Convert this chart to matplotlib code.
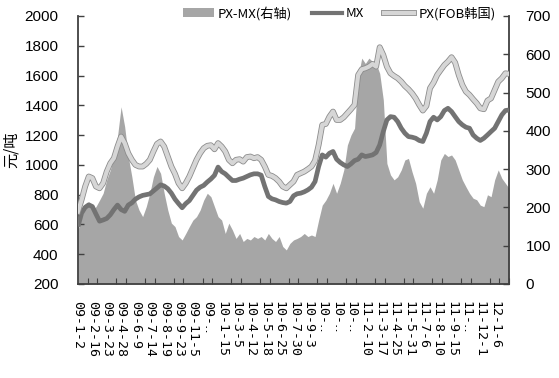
import matplotlib
matplotlib.use("Agg")
import matplotlib.pyplot as plt
import matplotlib.patheffects as pe
from matplotlib.patches import Patch
from matplotlib.lines import Line2D
import numpy as np

plt.rcParams['font.family'] = ['Noto Sans CJK SC', 'DejaVu Sans']

tick_labels = ["09-1-2", "09-2-16", "09-3-23", "09-4-28", "09-6-9", "09-7-14", "09-8-19",
               "09-9-23", "09-11-5", "09-‥", "10-1-15", "10-3-5", "10-4-12", "10-5-18",
               "10-6-25", "10-7-30", "10-9-3", "10-‥", "10-‥", "10-‥", "11-2-10", "11-3-17",
               "11-4-25", "11-5-31", "11-7-6", "11-8-10", "11-9-15", "11-‥", "11-12-1", "12-1-6"]

px = [687, 765, 855, 922, 911, 855, 843, 877, 955, 1011, 1045, 1123, 1190, 1146, 1078, 1034, 1000, 989, 989, 1007,
      1034, 1090, 1141, 1157, 1123, 1056, 989, 940, 877, 843, 877, 922, 978, 1034, 1078, 1112, 1128, 1132, 1105, 1146, 1123,
      1090, 1034, 1011, 1034, 1038, 1022, 1052, 1056, 1045, 1052, 1034, 989, 933, 926, 911, 888, 855, 843, 866, 888,
      933, 944, 955, 971, 989, 1029, 1134, 1269, 1275, 1324, 1358, 1302, 1302, 1320, 1347, 1374, 1403, 1604, 1642, 1649,
      1660, 1678, 1660, 1790, 1738, 1660, 1615, 1597, 1582, 1559, 1530, 1508, 1481, 1447, 1403, 1365, 1396, 1515, 1553, 1604,
      1638, 1671, 1694, 1723, 1687, 1604, 1537, 1492, 1470, 1441, 1414, 1380, 1374, 1432, 1447, 1503, 1559, 1582, 1615, 1611]

mx = [586, 676, 715, 732, 720, 670, 622, 630, 640, 665, 700, 730, 700, 688, 730, 745, 770, 785, 795, 800,
      805, 825, 845, 866, 858, 840, 810, 770, 740, 712, 740, 760, 795, 830, 850, 862, 885, 905, 930, 985, 955,
      940, 917, 895, 895, 904, 911, 922, 933, 940, 940, 931, 855, 788, 772, 765, 754, 747, 743, 754, 792,
      806, 810, 819, 832, 850, 888, 989, 1067, 1052, 1078, 1090, 1038, 1016, 1000, 989, 1007, 1029, 1038, 1067, 1056,
      1061, 1067, 1083, 1134, 1224, 1302, 1324, 1320, 1291, 1246, 1213, 1190, 1186, 1179, 1164, 1157, 1213, 1291, 1320, 1302,
      1324, 1365, 1380, 1358, 1324, 1291, 1269, 1253, 1246, 1201, 1179, 1164, 1179, 1201, 1224, 1246, 1291, 1336, 1365, 1369]

spread = [141, 176, 202, 215, 193, 202, 219, 237, 272, 298, 333, 385, 463, 411, 333, 280, 219, 193, 176, 202,
          237, 280, 307, 289, 237, 193, 159, 150, 124, 115, 132, 150, 167, 176, 193, 219, 237, 228, 202, 176, 167,
          132, 159, 141, 119, 132, 111, 119, 115, 124, 119, 124, 115, 132, 119, 111, 124, 98, 89, 106, 115,
          119, 124, 132, 124, 128, 124, 167, 206, 219, 237, 263, 237, 263, 298, 363, 389, 407, 542, 590, 576,
          590, 581, 576, 550, 481, 315, 285, 272, 280, 298, 324, 328, 293, 263, 215, 198, 237, 254, 237, 272,
          324, 341, 333, 337, 324, 298, 272, 254, 237, 224, 220, 206, 202, 233, 228, 272, 298, 276, 263, 250]

x = np.arange(len(px))
n = len(px) - 1

fig = plt.figure(figsize=(5.59, 3.78), dpi=100)
ax = fig.add_axes([0.1395, 0.2487, 0.7711, 0.709])
ax2 = ax.twinx()
ax.set_zorder(ax2.get_zorder() + 1)
ax.patch.set_visible(False)

area_col = '#a6a6a6'
ax2.fill_between(x, 0, spread, color=area_col, linewidth=0)
ax2.set_ylim(0, 700)
ax2.set_yticks(range(0, 701, 100))

ax.plot(x, mx, color='#737373', linewidth=3.4, solid_capstyle='butt', zorder=3)
ax.plot(x, px, color='#d6d6d6', linewidth=3.0, zorder=4,
        path_effects=[pe.Stroke(linewidth=4.2, foreground='#8c8c8c'), pe.Normal()])

ax.set_ylim(200, 2000)
ax.set_yticks(range(200, 2001, 200))
ax.set_xlim(0, n)

label_pos = np.arange(len(tick_labels)) * 4
ax.set_xticks(label_pos)
ax.set_xticklabels(tick_labels, rotation=-90, fontsize=9.5,
                   family=['DejaVu Sans Mono', 'DejaVu Sans'], va='top', ha='center')
ax.set_xticks(np.arange(0, n + 0.01, 8 / 3), minor=True)
ax.tick_params(axis='x', which='major', length=0, pad=12)
ax.tick_params(axis='x', which='minor', direction='in', length=4, width=0.8, color='#404040')

for a in (ax, ax2):
    a.tick_params(axis='y', direction='in', length=4, width=1.0, color='#404040')
    for s in a.spines.values():
        s.set_visible(False)
ax.spines['left'].set_visible(True)
ax.spines['bottom'].set_visible(True)
ax2.spines['right'].set_visible(True)
for s in (ax.spines['left'], ax.spines['bottom'], ax2.spines['right']):
    s.set_color('#404040')
    s.set_linewidth(1.3)

for lab in ax.get_yticklabels() + ax2.get_yticklabels():
    lab.set_family(['Liberation Sans', 'DejaVu Sans'])
    lab.set_fontsize(11)
ax.tick_params(axis='y', pad=14)
ax2.tick_params(axis='y', pad=12)

ax.set_ylabel('元/吨', fontsize=11, labelpad=2)
ax.yaxis.set_label_coords(-0.135, 0.5)

handles = [Patch(facecolor=area_col, edgecolor='none'),
           Line2D([], [], color='#737373', linewidth=3),
           Line2D([], [], color='#d6d6d6', linewidth=3,
                  path_effects=[pe.Stroke(linewidth=4.2, foreground='#8c8c8c'), pe.Normal()])]
labels = ['PX-MX(右轴)', 'MX', 'PX(FOB韩国)']
fig.legend(handles, labels, loc='center', bbox_to_anchor=(0.607, 0.965), ncol=3, frameon=False,
           fontsize=9.5, handlelength=2.3, handleheight=0.6, columnspacing=1.5, handletextpad=0.3)

fig.savefig('out.png', dpi=100)
